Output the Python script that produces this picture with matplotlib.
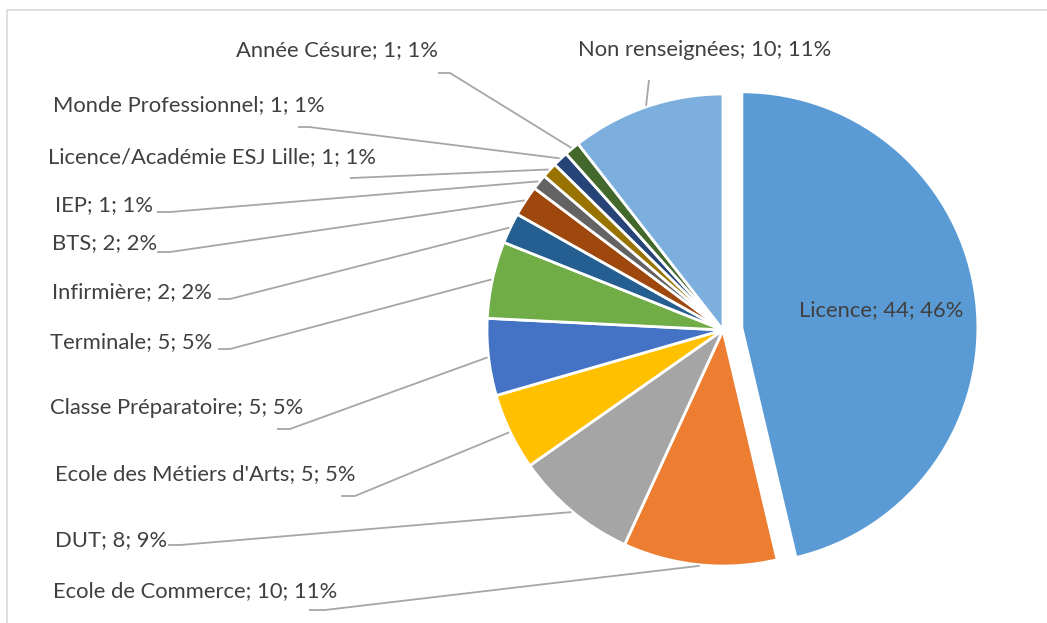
import numpy as np
import matplotlib
matplotlib.use('Agg')
import matplotlib.pyplot as plt

# données (ordre horaire depuis midi)
categories = ['Licence', 'Ecole de Commerce', 'DUT', "Ecole des Métiers d'Arts",
              'Classe Préparatoire', 'Terminale', 'Infirmière', 'BTS', 'IEP',
              'Licence/Académie ESJ Lille', 'Monde Professionnel', 'Année Césure',
              'Non renseignées']
effectifs = [44, 10, 8, 5, 5, 5, 2, 2, 1, 1, 1, 1, 10]
pourcentages = [46, 11, 9, 5, 5, 5, 2, 2, 1, 1, 1, 1, 11]

couleurs = ['#5B9BD5', '#ED7D31', '#A5A5A5', '#FFC000', '#4472C4', '#70AD47',
            '#255E91', '#9E480E', '#636363', '#997300', '#264478', '#43682B',
            '#7CAFDD']

W, H = 1047, 623
cx, cy, r = 723, 330, 236

# position des étiquettes (pixels depuis le haut) : x texte, y texte, alignement,
# puis début du trait de rappel et fin du petit palier horizontal
etiquettes = [
    (881, 310, 'center', None, None),
    (53, 591, 'left', (309, 610), (325, 610)),
    (55, 540, 'left', (168, 545), (180, 545)),
    (55, 474, 'left', (341, 496), (355, 496)),
    (50, 408, 'left', (277, 429), (290, 429)),
    (50, 342, 'left', (218, 349), (230, 349)),
    (52, 292, 'left', (218, 299), (230, 299)),
    (52, 243, 'left', (157, 252), (170, 252)),
    (55, 205, 'left', (157, 212), (170, 212)),
    (48, 157, 'left', (350, 178), (352, 178)),
    (53, 105, 'left', (298, 127), (309, 127)),
    (337, 50, 'center', (438, 73), (450, 73)),
    (705, 50, 'center', (649, 80), (649, 80)),
]

fig = plt.figure(figsize=(W / 100, H / 100), dpi=100)
ax = fig.add_axes([0, 0, 1, 1])

# décalage de la part Licence (en pixels, pie ne le multiplie pas par le rayon)
explode = [19] + [0] * (len(effectifs) - 1)
wedges, _ = ax.pie(effectifs, colors=couleurs, startangle=90, counterclock=False,
                   radius=r, center=(cx, H - cy), explode=explode,
                   wedgeprops=dict(edgecolor='white', linewidth=2))

ax.set_xlim(0, W)
ax.set_ylim(0, H)
ax.set_aspect('equal')
ax.axis('off')

# cadre du graphique
ax.plot([7, 7, W], [0, H - 10, H - 10], color='#D9D9D9', lw=1.2)

total = sum(effectifs)
cumul = 0
for i, (cat, n, p) in enumerate(zip(categories, effectifs, pourcentages)):
    milieu = np.deg2rad(90 - (cumul + n / 2) / total * 360)
    cumul += n
    tx, ty, ha, debut, palier = etiquettes[i]
    ax.text(tx, H - ty, f'{cat}; {n}; {p}%', ha=ha, va='center',
            fontsize=15.8, color='#404040', family='Lato')
    if debut is None:
        continue
    px = cx + (r + 1) * np.cos(milieu)
    py = (H - cy) + (r + 1) * np.sin(milieu)
    ax.plot([debut[0], palier[0], px], [H - debut[1], H - palier[1], py],
            color='#A6A6A6', lw=1.3, solid_capstyle='butt')

fig.savefig('out.png', dpi=100)
